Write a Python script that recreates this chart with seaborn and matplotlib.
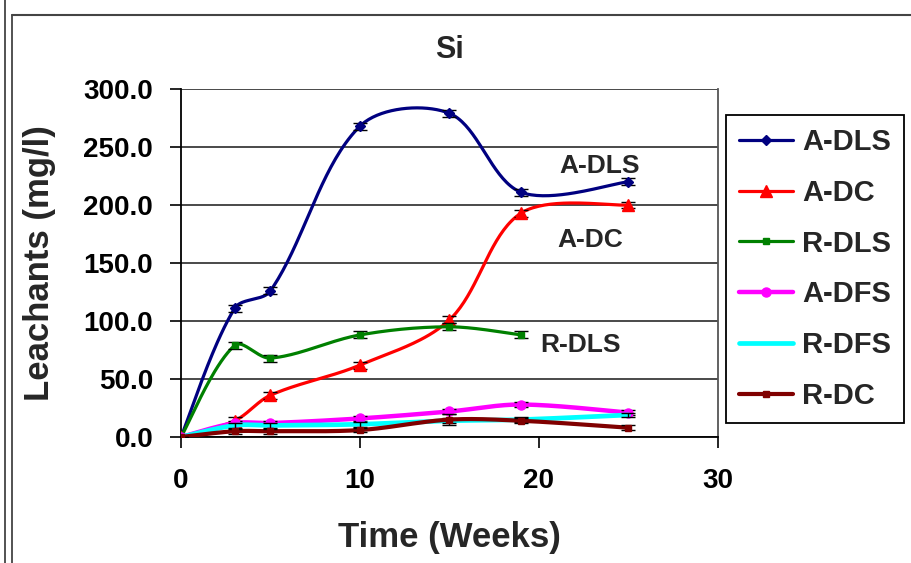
import numpy as np
import pandas as pd
import matplotlib
matplotlib.use("Agg")
import matplotlib.pyplot as plt
from matplotlib.lines import Line2D
import seaborn as sns

# ---- data ----
weeks_full = [0, 3, 5, 10, 15, 19, 25]
weeks_rdls = [0, 3, 5, 10, 15, 19]

a_dls = [0, 111, 126, 268, 279, 211, 220]
a_dc = [0, 14, 36, 62, 101, 193, 200]
r_dls = [0, 79, 68, 88, 95, 88]
a_dfs = [0, 12, 12, 16, 22, 28, 21]
r_dfs = [0, 10, 10, 11, 14, 15, 19]
r_dc = [0, 5, 5, 6, 15, 14, 8]

err_a_dls = [0, 3, 3, 3, 3, 3, 3]
err_a_dc = [0, 3, 3, 3, 3, 3, 3]
err_r_dls = [0, 3, 3, 3, 3, 3]
err_a_dfs = [0, 2, 2, 2, 2, 2, 2]
err_r_dfs = [0, 2, 2, 2, 2, 2, 2]
err_r_dc = [0, 2, 2, 2, 5, 2, 2]

series_names = ["A-DLS", "A-DC", "R-DLS", "A-DFS", "R-DFS", "R-DC"]
yticks = [0, 50, 100, 150, 200, 250, 300]
xticks = [0, 10, 20, 30]

# ---- style ----
sns.set_style("white")
plt.rcParams["font.family"] = ["Liberation Sans", "DejaVu Sans"]
plt.rcParams["font.weight"] = "bold"

# pixel scale of the axes, used only to shape the smoothing like Excel does
PX_PER_X = 537 / 30
PX_PER_Y = 348 / 300


def smooth(xs, ys, n=40):
    """Excel-like smoothed line through the data points (length-weighted Hermite)."""
    P = np.column_stack([np.asarray(xs, float) * PX_PER_X,
                         np.asarray(ys, float) * PX_PER_Y])
    m = len(P)
    d = np.linalg.norm(np.diff(P, axis=0), axis=1)
    t = np.linspace(0, 1, n)[:, None]
    out = []
    for i in range(m - 1):
        p1, p2 = P[i], P[i + 1]
        if i > 0:
            m1 = (p2 - P[i - 1]) * d[i] / (d[i - 1] + d[i])
        else:
            m1 = (p2 - p1) / 2
        if i + 2 < m:
            m2 = (P[i + 2] - p1) * d[i] / (d[i] + d[i + 1])
        else:
            m2 = (p2 - p1) / 2
        h00 = 2 * t**3 - 3 * t**2 + 1
        h10 = t**3 - 2 * t**2 + t
        h01 = -2 * t**3 + 3 * t**2
        h11 = t**3 - t**2
        seg = h00 * p1 + h10 * m1 + h01 * p2 + h11 * m2
        out.append(seg if i == 0 else seg[1:])
    c = np.vstack(out)
    return c[:, 0] / PX_PER_X, c[:, 1] / PX_PER_Y


fig = plt.figure(figsize=(9.12, 5.63), dpi=100)
ax = fig.add_axes([181 / 912, 1 - 437 / 563, (718 - 181) / 912, (437 - 89) / 563])

specs = [
    ("A-DLS", weeks_full, a_dls, err_a_dls, "#000080", "D", 5.5, 2.3),
    ("A-DC", weeks_full, a_dc, err_a_dc, "#FF0000", "^", 8, 2.3),
    ("R-DLS", weeks_rdls, r_dls, err_r_dls, "#008000", "s", 4.5, 2.3),
    ("A-DFS", weeks_full, a_dfs, err_a_dfs, "#FF00FF", "o", 6.5, 3.2),
    ("R-DFS", weeks_full, r_dfs, err_r_dfs, "#00FFFF", None, 0, 3.4),
    ("R-DC", weeks_full, r_dc, err_r_dc, "#800000", "s", 4, 3.0),
]

handles = []
for k, (name, xs, ys, errs, col, mk, ms, lw) in enumerate(specs):
    cx, cy = smooth(xs, ys)
    df = pd.DataFrame({"x": cx, "y": cy})
    sns.lineplot(data=df, x="x", y="y", sort=False, estimator=None, color=col,
                 linewidth=lw, ax=ax, zorder=3 + k)
    ax.errorbar(xs, ys, yerr=errs, fmt="none", ecolor="black", elinewidth=1,
                capsize=5, capthick=1, zorder=3 + k)
    if mk is not None:
        ax.plot(xs, ys, linestyle="none", marker=mk, markersize=ms, color=col,
                markeredgecolor=col, zorder=3.5 + k)
    handles.append(Line2D([0], [0], color=col, linewidth=lw,
                          marker=mk if mk else None, markersize=ms,
                          markeredgecolor=col))

ax.set_xlim(0, 30)
ax.set_ylim(0, 300)
ax.set_xticks(xticks)
ax.set_yticks(yticks)
ax.set_yticklabels([f"{v:.1f}" for v in yticks])
ax.grid(axis="y", color="#3a3a3a", linewidth=1.3)
ax.grid(axis="x", visible=False)
ax.tick_params(axis="both", which="both", direction="out", length=8, width=1.2,
               labelsize=20, colors="black", bottom=True, left=True)
ax.tick_params(axis="y", pad=12)
ax.tick_params(axis="x", pad=14)
for lab in ax.get_xticklabels() + ax.get_yticklabels():
    lab.set_fontweight("bold")

for side in ["left", "bottom"]:
    ax.spines[side].set_color("black")
    ax.spines[side].set_linewidth(1.3)
ax.spines["top"].set_visible(False)
ax.spines["right"].set_color("#555555")
ax.spines["right"].set_linewidth(1.3)
ax.set_axisbelow(True)

ax.set_title("Si", fontsize=22, fontweight="bold", pad=22)
ax.set_xlabel("Time (Weeks)", fontsize=25, fontweight="bold", labelpad=20)
ax.set_ylabel("Leachants (mg/l)", fontsize=25, fontweight="bold", labelpad=20)

# in-plot series labels
ax.text(23.4, 234, "A-DLS", fontsize=19, fontweight="bold", ha="center", va="center")
ax.text(22.85, 170, "A-DC", fontsize=19, fontweight="bold", ha="center", va="center")
ax.text(22.3, 79, "R-DLS", fontsize=19, fontweight="bold", ha="center", va="center")

leg = fig.legend(handles, series_names, loc="upper left",
                 bbox_to_anchor=(726 / 912, 1 - 115 / 563),
                 prop={"size": 21, "weight": "bold"}, frameon=True, fancybox=False,
                 edgecolor="black", framealpha=1, borderpad=0.45,
                 labelspacing=0.78, handlelength=1.85, handletextpad=0.3,
                 borderaxespad=0)
leg.get_frame().set_linewidth(1.3)

# outer chart frame lines
fig.add_artist(Line2D([5 / 912, 5 / 912], [0, 1], transform=fig.transFigure,
                      color="#444444", linewidth=1.3))
fig.add_artist(Line2D([12 / 912, 12 / 912], [0, 1 - 15 / 563], transform=fig.transFigure,
                      color="#444444", linewidth=1.3))
fig.add_artist(Line2D([12 / 912, 1], [1 - 15 / 563, 1 - 15 / 563], transform=fig.transFigure,
                      color="#444444", linewidth=1.5))

fig.savefig("out.png", dpi=100)
